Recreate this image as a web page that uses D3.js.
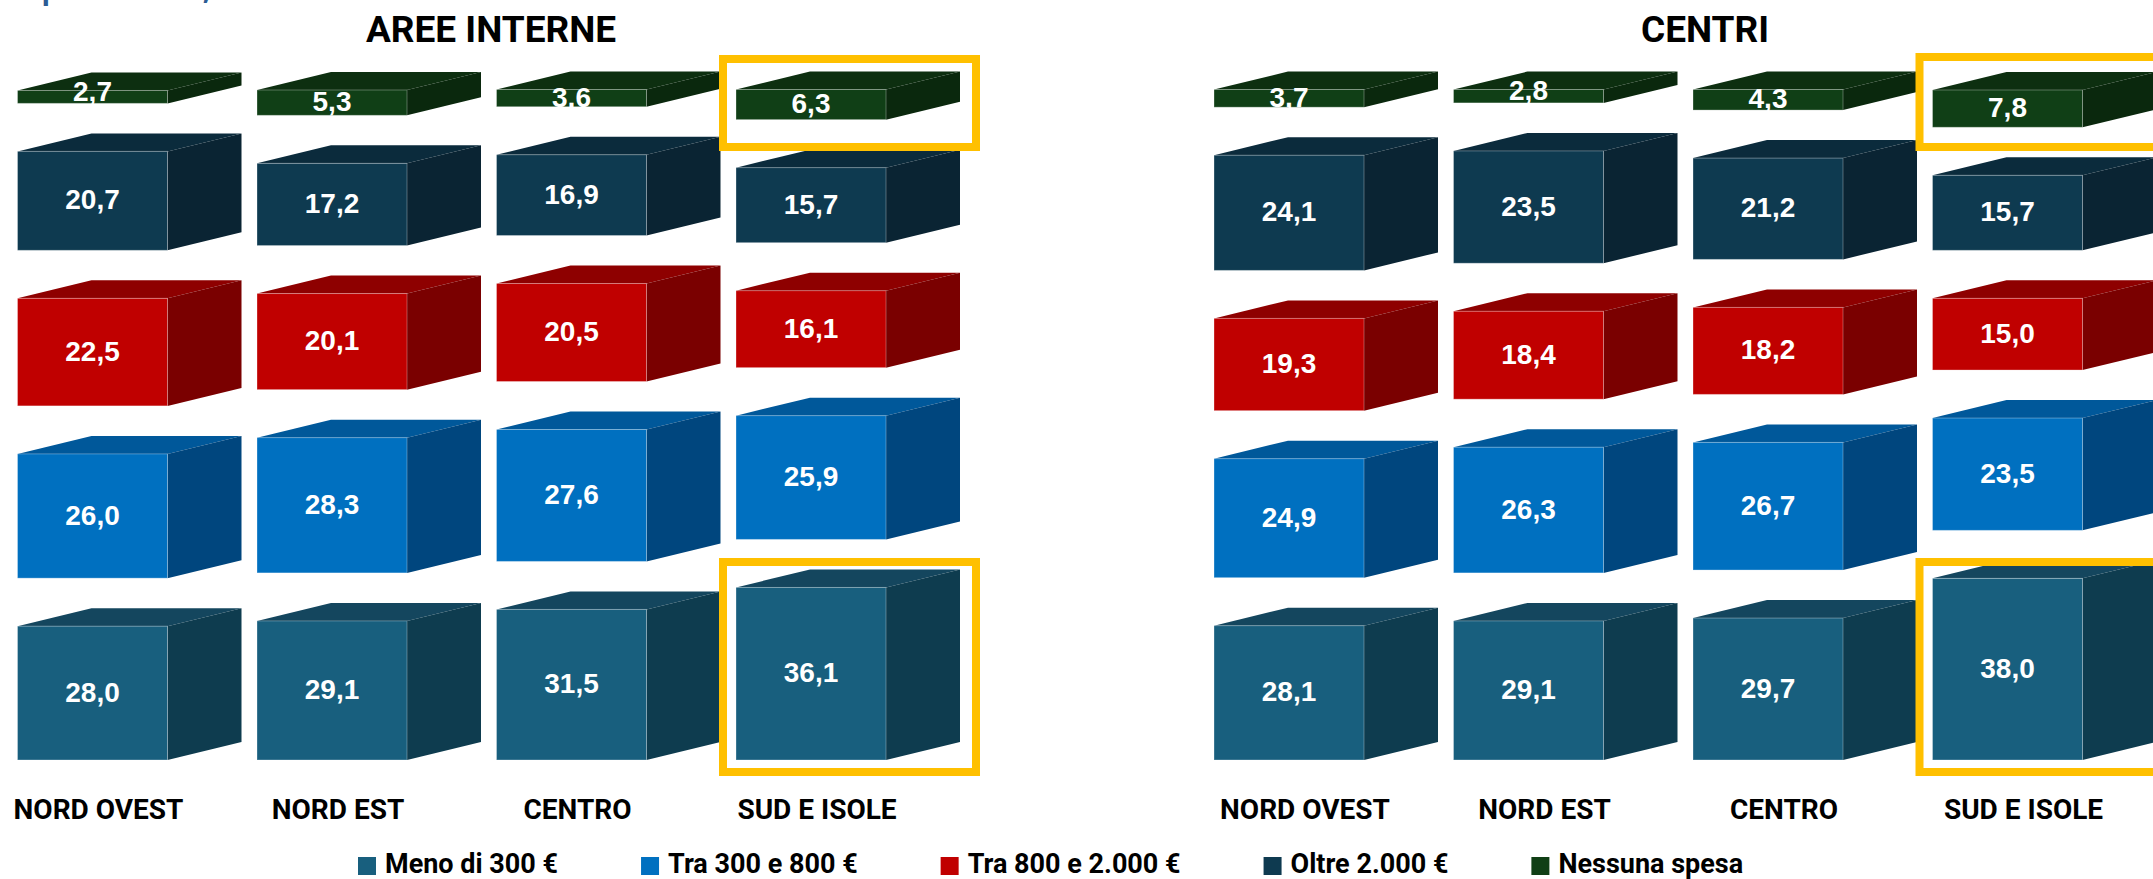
<!DOCTYPE html>
<html>
<head>
<meta charset="utf-8">
<script src="https://cdn.jsdelivr.net/npm/d3@7"></script>
<style>
  html, body { margin: 0; padding: 0; background: #ffffff; }
  svg { display: block; }
</style>
</head>
<body>
<svg id="chart" width="2153" height="879"></svg>
<script>
// Regions on the x axis
const categories = ["NORD OVEST", "NORD EST", "CENTRO", "SUD E ISOLE"];

// Spending classes, bottom to top of each stack
const seriesNames = ["Meno di 300 €", "Tra 300 e 800 €", "Tra 800 e 2.000 €", "Oltre 2.000 €", "Nessuna spesa"];

// Aree interne (%)
const aiMeno300    = [28.0, 29.1, 31.5, 36.1];
const aiTra300_800 = [26.0, 28.3, 27.6, 25.9];
const aiTra800_2000 = [22.5, 20.1, 20.5, 16.1];
const aiOltre2000  = [20.7, 17.2, 16.9, 15.7];
const aiNessuna    = [2.7, 5.3, 3.6, 6.3];

// Centri (%)
const ceMeno300    = [28.1, 29.1, 29.7, 38.0];
const ceTra300_800 = [24.9, 26.3, 26.7, 23.5];
const ceTra800_2000 = [19.3, 18.4, 18.2, 15.0];
const ceOltre2000  = [24.1, 23.5, 21.2, 15.7];
const ceNessuna    = [3.7, 2.8, 4.3, 7.8];

const panelTitles = ["AREE INTERNE", "CENTRI"];
const highlightCategory = "SUD E ISOLE";

// ---- styling ----
const faceColors = [
  { front: "#185F7E", top: "#14465E", side: "#0E3C4F" },
  { front: "#0070C0", top: "#00589A", side: "#00467E" },
  { front: "#C00000", top: "#8E0000", side: "#7A0000" },
  { front: "#0E3A50", top: "#0B2B3C", side: "#0A2433" },
  { front: "#103F16", top: "#0D2F10", side: "#0A280D" }
];
const legendColors = ["#185F7E", "#0070C0", "#C00000", "#0E3A50", "#103F16"];

const W = 2153, H = 879;
const baseY = 760;          // floor of the stacks
const stackPx = 478;        // pixels covered by 100 %
const gap = 48;             // vertical gap between stacked blocks
const depthX = 74, depthY = 18;
const barW = 150, step = 239.5;

const panels = [
  { title: panelTitles[0], titleX: 491, start: 17.5, labelShift: 6,
    series: [aiMeno300, aiTra300_800, aiTra800_2000, aiOltre2000, aiNessuna],
    boxTop: [59, 147] },
  { title: panelTitles[1], titleX: 1705, start: 1214, labelShift: 16,
    series: [ceMeno300, ceTra300_800, ceTra800_2000, ceOltre2000, ceNessuna],
    boxTop: [57, 147] }
];

const svg = d3.select("#chart");
svg.append("rect").attr("width", W).attr("height", H).attr("fill", "#ffffff");

// Heading line above the charts: it sits above the canvas, only its descenders reach it
svg.append("text")
  .attr("x", 26).attr("y", -1.5)
  .attr("font-family", "'Open Sans', sans-serif")
  .attr("font-weight", 700)
  .attr("font-size", 28)
  .attr("fill", "#2B5C94")
  .text("Spesa annua, valori %");

const h = d3.scaleLinear().domain([0, 100]).range([0, stackPx]);

panels.forEach(p => {
  const x = d3.scaleBand()
    .domain(categories)
    .range([p.start, p.start + 3 * step + barW])
    .paddingInner((step - barW) / step)
    .paddingOuter(0);

  const g = svg.append("g");

  g.append("text")
    .attr("x", p.titleX).attr("y", 42)
    .attr("text-anchor", "middle")
    .attr("font-family", "Roboto, sans-serif")
    .attr("font-weight", 700)
    .attr("font-size", 37)
    .attr("fill", "#000000")
    .text(p.title);

  categories.forEach((cat, ci) => {
    const x0 = x(cat), x1 = x0 + x.bandwidth();
    let cum = 0;
    p.series.forEach((vals, si) => {
      const v = vals[ci];
      const yBot = baseY - h(cum) - si * gap;
      const yTop = yBot - h(v);
      cum += v;
      const c = faceColors[si];
      const blk = g.append("g");
      // top face
      blk.append("path")
        .attr("d", `M${x0},${yTop}L${x0 + depthX},${yTop - depthY}L${x1 + depthX},${yTop - depthY}L${x1},${yTop}Z`)
        .attr("fill", c.top);
      // side face
      blk.append("path")
        .attr("d", `M${x1},${yTop}L${x1 + depthX},${yTop - depthY}L${x1 + depthX},${yBot - depthY}L${x1},${yBot}Z`)
        .attr("fill", c.side);
      // front face
      blk.append("rect")
        .attr("x", x0).attr("y", yTop)
        .attr("width", x1 - x0).attr("height", yBot - yTop)
        .attr("fill", c.front)
        .attr("stroke", "#ffffff").attr("stroke-opacity", 0.3).attr("stroke-width", 1);
      // value label
      const fh = yBot - yTop;
      const cy = fh < 15 ? yTop + 1 : (yTop + yBot) / 2 - 1;
      blk.append("text")
        .attr("x", (x0 + x1) / 2).attr("y", cy)
        .attr("text-anchor", "middle")
        .attr("dominant-baseline", "central")
        .attr("font-family", "'Liberation Sans', Arial, sans-serif")
        .attr("font-weight", 700)
        .attr("font-size", 28)
        .attr("fill", "#ffffff")
        .text(d3.format(".1f")(v).replace(".", ","));
    });

    // category label
    g.append("text")
      .attr("x", x0 + x.bandwidth() / 2 + p.labelShift).attr("y", 819)
      .attr("text-anchor", "middle")
      .attr("font-family", "Roboto, sans-serif")
      .attr("font-weight", 700)
      .attr("font-size", 28)
      .attr("fill", "#000000")
      .text(cat);

    // highlight frames
    if (cat === highlightCategory) {
      const bx0 = x0 - 13, bx1 = x1 + depthX + 16;
      g.append("rect")
        .attr("x", bx0).attr("y", p.boxTop[0])
        .attr("width", bx1 - bx0).attr("height", p.boxTop[1] - p.boxTop[0])
        .attr("fill", "none").attr("stroke", "#FFC000").attr("stroke-width", 8);
      g.append("rect")
        .attr("x", bx0).attr("y", baseY - 198)
        .attr("width", bx1 - bx0).attr("height", 210)
        .attr("fill", "none").attr("stroke", "#FFC000").attr("stroke-width", 8);
    }
  });
});

// legend
const legend = svg.append("g");
let lx = 358;
seriesNames.forEach((name, i) => {
  legend.append("rect")
    .attr("x", lx).attr("y", 857)
    .attr("width", 18).attr("height", 18)
    .attr("fill", legendColors[i]);
  const t = legend.append("text")
    .attr("x", lx + 27).attr("y", 873)
    .attr("font-family", "Roboto, sans-serif")
    .attr("font-weight", 700)
    .attr("font-size", 27)
    .attr("fill", "#000000")
    .text(name);
  lx += 27 + t.node().getComputedTextLength() + 83;
});
</script>
</body>
</html>
